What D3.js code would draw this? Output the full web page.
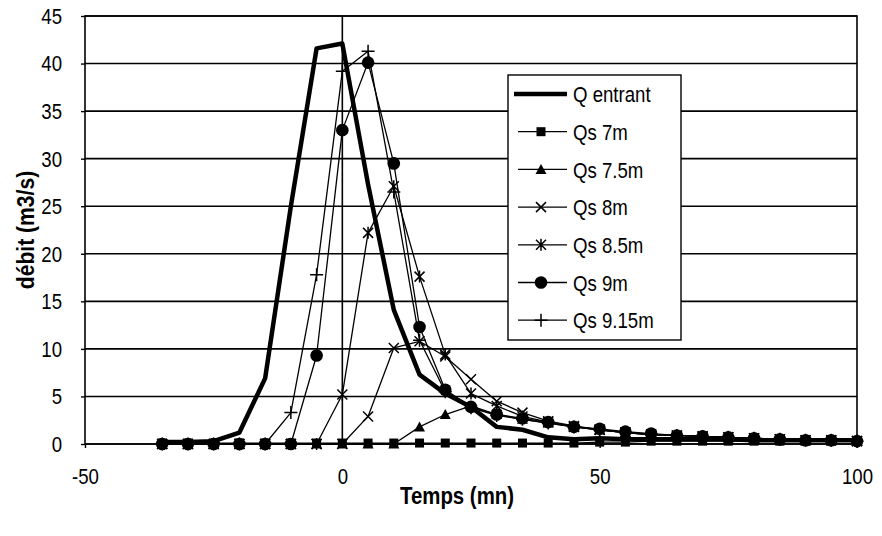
<!DOCTYPE html>
<html>
<head>
<meta charset="utf-8">
<script src="https://cdn.jsdelivr.net/npm/d3@7"></script>
<style>
  body { margin: 0; background: #fff; }
  text { font-family: "Liberation Sans", Arial, sans-serif; }
</style>
</head>
<body>
<svg id="chart" width="882" height="536"></svg>
<script>
// temps en minutes
const temps = [-35,-30,-25,-20,-15,-10,-5,0,5,10,15,20,25,30,35,40,45,50,55,60,65,70,75,80,85,90,95,100];

const qEntrant = [0.2,0.2,0.3,1.2,6.9,25,41.6,42.1,27.3,14.1,7.3,5.3,3.9,1.8,1.5,0.7,0.5,0.6,0.5,0.5,0.5,0.5,0.5,0.4,0.4,0.4,0.4,0.4];
const qs7 = [0.1,0.1,0.1,0.1,0.1,0.1,0.1,0.1,0.1,0.1,0.1,0.1,0.1,0.1,0.1,0.1,0.1,0.2,0.2,0.3,0.3,0.3,0.3,0.3,0.3,0.3,0.3,0.3];
const qs75 = [0,0,0,0,0,0,0,0,0,0,1.8,3.1,4.0,3.1,2.6,2.2,1.8,1.5,1.2,1.0,0.9,0.8,0.7,0.6,0.5,0.4,0.4,0.3];
const qs8 = [0,0,0,0,0,0,0,0,2.9,10.1,10.8,9.2,6.8,4.5,3.3,2.4,1.9,1.5,1.2,1.0,0.9,0.8,0.7,0.6,0.5,0.4,0.4,0.3];
const qs85 = [0,0,0,0,0,0,0,5.2,22.2,27.1,17.6,9.4,5.3,4.0,2.9,2.3,1.8,1.5,1.2,1.0,0.9,0.8,0.7,0.6,0.5,0.4,0.4,0.3];
const qs9 = [0,0,0,0,0,0,9.3,33.0,40.1,29.5,12.3,5.7,3.9,3.1,2.7,2.3,1.8,1.6,1.3,1.1,0.9,0.8,0.7,0.6,0.5,0.4,0.4,0.3];
const qs915 = [0,0,0,0,0,3.3,17.8,39.2,41.3,26.5,10.9,5.5,3.8,3.0,2.6,2.2,1.8,1.5,1.2,1.0,0.9,0.8,0.7,0.6,0.5,0.4,0.4,0.3];

const xTicks = [-50, 0, 50, 100];
const yTicks = [0,5,10,15,20,25,30,35,40,45];

const series = [
    {name: "Q entrant", values: qEntrant, marker: null, width: 4.5},
    {name: "Qs 7m", values: qs7, marker: "square", width: 1.3},
    {name: "Qs 7.5m", values: qs75, marker: "triangle", width: 1.3},
    {name: "Qs 8m", values: qs8, marker: "x", width: 1.3},
    {name: "Qs 8.5m", values: qs85, marker: "star", width: 1.3},
    {name: "Qs 9m", values: qs9, marker: "circle", width: 1.3},
    {name: "Qs 9.15m", values: qs915, marker: "plus", width: 1.3}
];

const SX = 0.81; // écrasement horizontal (police étroite)

// simule une police condensée
let narrow = (sel, sx) => {
    sel.each(function() {
        let t = d3.select(this);
        let tx = +t.attr("x") || 0;
        t.attr("x", tx / sx).attr("transform", "scale(" + sx + ",1)");
    });
};

let svg = d3.select("#chart");
let margin = {top: 16, right: 25, bottom: 92, left: 85},
    width = +svg.attr("width") - margin.left - margin.right,
    height = +svg.attr("height") - margin.top - margin.bottom,
    g = svg.append("g").attr("transform", "translate(" + margin.left + "," + margin.top + ")");

let x = d3.scaleLinear().domain([-50, 100]).range([0, width]);
let y = d3.scaleLinear().domain([0, 45]).range([height, 0]);

// grille horizontale
g.append("g")
    .selectAll("line")
    .data(yTicks)
    .enter().append("line")
    .attr("x1", 0).attr("x2", width)
    .attr("y1", d => y(d)).attr("y2", d => y(d))
    .attr("stroke", "#000")
    .attr("stroke-width", 1.6);

// cadre
g.append("rect")
    .attr("width", width).attr("height", height)
    .attr("fill", "none").attr("stroke", "#000").attr("stroke-width", 1.6);

// axe vertical en x = 0
g.append("line")
    .attr("x1", x(0)).attr("x2", x(0))
    .attr("y1", 0).attr("y2", height)
    .attr("stroke", "#000").attr("stroke-width", 1.6);

let yAxis = g.append("g")
    .call(d3.axisLeft(y).tickValues(yTicks).tickSize(4).tickPadding(19).tickFormat(d => String(d)));
yAxis.select(".domain").remove();
yAxis.selectAll("line").attr("stroke", "#000").attr("stroke-width", 1.4);
yAxis.selectAll("text").attr("font-size", 23).attr("fill", "#000")
    .style("font-family", "'Liberation Sans', Arial, sans-serif")
    .call(narrow, SX);

let xAxis = g.append("g")
    .attr("transform", "translate(0," + height + ")")
    .call(d3.axisBottom(x).tickValues(xTicks).tickSize(4).tickPadding(20).tickFormat(d => String(d)));
xAxis.select(".domain").remove();
xAxis.selectAll("line").attr("stroke", "#000").attr("stroke-width", 1.4);
xAxis.selectAll("text").attr("font-size", 23).attr("fill", "#000")
    .style("font-family", "'Liberation Sans', Arial, sans-serif")
    .call(narrow, SX);

// titres
svg.append("g").attr("transform", "translate(" + (margin.left + width / 2 - 14) + ",504)")
    .append("text")
    .attr("text-anchor", "middle")
    .attr("font-size", 24).attr("font-weight", "bold")
    .text("Temps (mn)")
    .call(narrow, 0.85);

svg.append("g").attr("transform", "translate(34,230) rotate(-90)")
    .append("text")
    .attr("text-anchor", "middle")
    .attr("font-size", 24).attr("font-weight", "bold")
    .text("débit (m3/s)")
    .call(narrow, 0.88);

// marqueurs
let drawMarker = (sel, type) => {
    if (type === "square") {
        sel.append("rect").attr("x", -4.5).attr("y", -4.5).attr("width", 9).attr("height", 9).attr("fill", "#000");
    } else if (type === "triangle") {
        sel.append("path").attr("d", "M0,-5.5L5.5,4.5L-5.5,4.5Z").attr("fill", "#000");
    } else if (type === "circle") {
        sel.append("circle").attr("r", 6.3).attr("fill", "#000");
    } else if (type === "x") {
        sel.append("path").attr("d", "M-5,-5L5,5M-5,5L5,-5").attr("stroke", "#000").attr("stroke-width", 1.5);
    } else if (type === "star") {
        sel.append("path").attr("d", "M-5,-5L5,5M-5,5L5,-5M0,-6L0,6").attr("stroke", "#000").attr("stroke-width", 1.5);
    } else if (type === "plus") {
        sel.append("path").attr("d", "M-6.5,0L6.5,0M0,-6.5L0,6.5").attr("stroke", "#000").attr("stroke-width", 1.5);
    }
};

let line = d3.line()
    .x(d => x(d[0]))
    .y(d => y(d[1]));

series.forEach(s => {
    let pts = temps.map((t, i) => [t, s.values[i]]);
    g.append("path")
        .datum(pts)
        .attr("fill", "none")
        .attr("stroke", "#000")
        .attr("stroke-width", s.width)
        .attr("stroke-linejoin", "round")
        .attr("d", line);
    if (s.marker) {
        g.append("g").selectAll("g")
            .data(pts)
            .enter().append("g")
            .attr("transform", d => "translate(" + x(d[0]) + "," + y(d[1]) + ")")
            .each(function() { drawMarker(d3.select(this), s.marker); });
    }
});

// légende
let lg = svg.append("g").attr("transform", "translate(508,75)");
lg.append("rect")
    .attr("width", 173).attr("height", 265)
    .attr("fill", "#fff").attr("stroke", "#000").attr("stroke-width", 1.4);

series.forEach((s, i) => {
    let row = lg.append("g").attr("transform", "translate(0," + (19 + i * 37.7) + ")");
    row.append("line")
        .attr("x1", s.marker ? 10 : 6).attr("x2", 59)
        .attr("stroke", "#000").attr("stroke-width", s.marker ? 1.3 : 4.5);
    if (s.marker) {
        drawMarker(row.append("g").attr("transform", "translate(33,0)"), s.marker);
    }
    row.append("text")
        .attr("x", 65).attr("dy", "0.36em")
        .attr("font-size", 23)
        .text(s.name)
        .call(narrow, SX);
});
</script>
</body>
</html>
